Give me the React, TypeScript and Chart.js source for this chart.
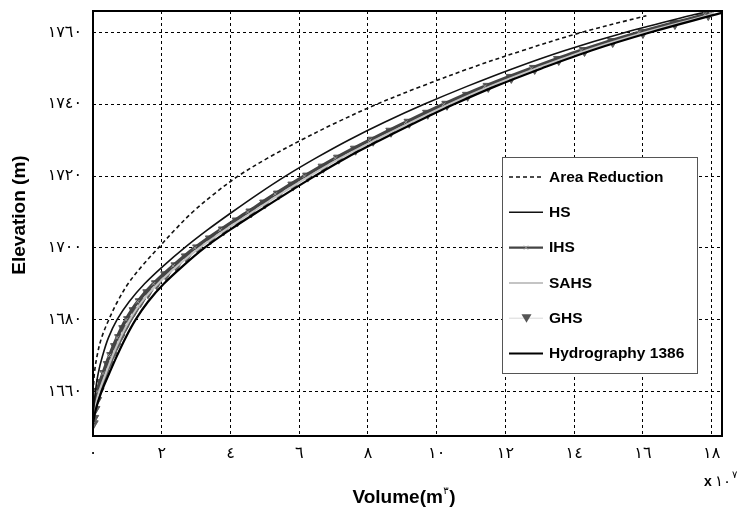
import React, { useEffect, useRef } from "react";
import { Chart, registerables } from "chart.js";

Chart.register(...registerables);

// ---- data (volume in 10^7 m^3, elevation in m) ----
const xTicks = [0, 2, 4, 6, 8, 10, 12, 14, 16, 18];
const yTicks = [1660, 1680, 1700, 1720, 1740, 1760];

const areaReductionElev = [1656, 1660, 1665, 1670, 1675, 1680, 1685, 1690, 1695, 1700, 1705, 1710, 1715, 1720, 1725, 1730, 1735, 1740, 1745, 1750, 1755, 1760, 1764.7];
const areaReductionVol = [0, 0.01, 0.04, 0.12, 0.25, 0.46, 0.71, 1.02, 1.43, 1.9, 2.38, 2.9, 3.52, 4.22, 5.08, 6.05, 7.1, 8.25, 9.55, 10.95, 12.5, 14.2, 16.1];

const curveElev = [1651, 1655, 1660, 1665, 1670, 1675, 1680, 1685, 1690, 1695, 1700, 1705, 1710, 1715, 1720, 1725, 1730, 1735, 1740, 1745, 1750, 1755, 1760, 1765, 1765.5];
const hsVol = [0, 0.02, 0.07, 0.15, 0.28, 0.45, 0.7, 1.05, 1.5, 2.05, 2.66, 3.33, 4.05, 4.8, 5.6, 6.48, 7.43, 8.48, 9.63, 10.88, 12.23, 13.73, 15.48, 17.5, 17.75];
const ihsVol = [0, 0.03, 0.12, 0.29, 0.48, 0.7, 0.96, 1.3, 1.76, 2.33, 2.96, 3.7, 4.5, 5.3, 6.15, 7.05, 8.05, 9.1, 10.2, 11.4, 12.75, 14.2, 15.88, 17.8, 17.95];
const sahsVol = [0, 0.05, 0.18, 0.37, 0.57, 0.8, 1.07, 1.42, 1.89, 2.46, 3.1, 3.84, 4.64, 5.45, 6.3, 7.2, 8.2, 9.25, 10.35, 11.55, 12.9, 14.35, 16.05, 17.95, 18.05];
const hydroVol = [0, 0.08, 0.25, 0.47, 0.7, 0.95, 1.24, 1.6, 2.06, 2.62, 3.24, 3.98, 4.78, 5.6, 6.45, 7.35, 8.35, 9.4, 10.5, 11.7, 13.05, 14.5, 16.2, 18.1, 18.3];

const ghsElev = [1651, 1652.5, 1655, 1657.5, 1660, 1662.5, 1665, 1667.5, 1670, 1672.5, 1675, 1677.5, 1680, 1682.5, 1685, 1687.5, 1690, 1692.5, 1695, 1697.5, 1700, 1702.5, 1705, 1707.5, 1710, 1712.5, 1715, 1717.5, 1720, 1722.5, 1725, 1727.5, 1730, 1732.5, 1735, 1737.5, 1740, 1742.5, 1745, 1747.5, 1750, 1752.5, 1755, 1757.5, 1760, 1762.5, 1765];
const ghsVol = [0, 0.015, 0.05, 0.1, 0.17, 0.25, 0.35, 0.45, 0.55, 0.66, 0.78, 0.9, 1.04, 1.2, 1.38, 1.6, 1.85, 2.12, 2.42, 2.72, 3.05, 3.42, 3.8, 4.2, 4.6, 5.0, 5.4, 5.82, 6.25, 6.7, 7.15, 7.64, 8.15, 8.67, 9.2, 9.74, 10.3, 10.9, 11.5, 12.17, 12.85, 13.55, 14.3, 15.12, 16.0, 16.93, 17.9];

const seriesLabels = ["Area Reduction", "HS", "IHS", "SAHS", "GHS", "Hydrography 1386"];

const AR_DIGITS = "٠١٢٣٤٥٦٧٨٩";
const toArabic = (v: number | string) => String(v).replace(/[0-9]/g, (d) => AR_DIGITS[+d]);

const pts = (vol: number[], elev: number[]) => elev.map((h, i) => ({ x: vol[i], y: h }));

const SANS = "'Liberation Sans', Arial, sans-serif";
const DIGIT_FONT = "'DejaVu Sans', sans-serif";

function drawTriangleDown(ctx: CanvasRenderingContext2D, x: number, y: number, r: number, color: string) {
  ctx.beginPath();
  ctx.moveTo(x - r, y - r * 0.8);
  ctx.lineTo(x + r, y - r * 0.8);
  ctx.lineTo(x, y + r * 0.9);
  ctx.closePath();
  ctx.fillStyle = color;
  ctx.fill();
}

const decorPlugin = {
  id: "decor",
  afterDatasetsDraw(chart: any) {
    const { ctx, chartArea: a } = chart;
    ctx.save();
    // frame
    ctx.strokeStyle = "#000";
    ctx.lineWidth = 2;
    ctx.setLineDash([]);
    ctx.strokeRect(a.left, a.top, a.right - a.left, a.bottom - a.top);

    // legend box
    const bx = 502, by = 157, bw = 195, bh = 216;
    ctx.fillStyle = "#fff";
    ctx.fillRect(bx, by, bw, bh);
    ctx.strokeStyle = "#555";
    ctx.lineWidth = 1;
    ctx.strokeRect(bx + 0.5, by + 0.5, bw, bh);

    ctx.font = `bold 15.5px ${SANS}`;
    ctx.textBaseline = "middle";
    ctx.textAlign = "left";
    chart.data.datasets.forEach((ds: any, row: number) => {
      const y = 177 + row * 35.3;
      const x0 = 509, x1 = 543;
      ctx.save();
      ctx.strokeStyle = ds.borderColor;
      ctx.lineWidth = Math.min(ds.borderWidth, 2.2);
      ctx.setLineDash(ds.borderDash || []);
      ctx.beginPath();
      ctx.moveTo(x0, y);
      ctx.lineTo(x1, y);
      ctx.stroke();
      ctx.setLineDash([]);
      if (ds.label === "IHS") {
        ctx.strokeStyle = "#999";
        ctx.lineWidth = 1;
        ctx.beginPath();
        ctx.moveTo(524, y - 2); ctx.lineTo(528, y + 2);
        ctx.moveTo(528, y - 2); ctx.lineTo(524, y + 2);
        ctx.stroke();
      }
      if (ds.label === "GHS") {
        drawTriangleDown(ctx, 526.5, y, 5, "#555");
      }
      ctx.restore();
      ctx.fillStyle = "#000";
      ctx.fillText(ds.label, 549, y + 0.5);
    });
    ctx.restore();
  },
  afterDraw(chart: any) {
    const { ctx } = chart;
    ctx.save();
    ctx.fillStyle = "#000";
    // y title
    ctx.save();
    ctx.translate(20, 215);
    ctx.rotate(-Math.PI / 2);
    ctx.font = `bold 19px ${SANS}`;
    ctx.textAlign = "center";
    ctx.textBaseline = "middle";
    ctx.fillText("Elevation (m)", 0, 0);
    ctx.restore();

    // x title with superscript
    ctx.textBaseline = "alphabetic";
    ctx.textAlign = "left";
    const main = "Volume(m";
    const sup = toArabic(3);
    const close = ")";
    ctx.font = `bold 19px ${SANS}`;
    const w1 = ctx.measureText(main).width;
    const w3 = ctx.measureText(close).width;
    ctx.font = `10px ${DIGIT_FONT}`;
    const w2 = ctx.measureText(sup).width;
    const total = w1 + w2 + w3 + 1;
    let x = 404 - total / 2;
    const base = 503;
    ctx.font = `bold 19px ${SANS}`;
    ctx.fillText(main, x, base);
    x += w1;
    ctx.font = `10px ${DIGIT_FONT}`;
    ctx.fillText(sup, x + 0.5, base - 9);
    x += w2 + 1;
    ctx.font = `bold 19px ${SANS}`;
    ctx.fillText(close, x, base);

    // multiplier "x 10^7"
    const mb = 486;
    ctx.font = `bold 14px ${SANS}`;
    ctx.fillText("x", 704, mb);
    ctx.font = `15px ${DIGIT_FONT}`;
    ctx.fillText(toArabic(10), 715, mb);
    const w10 = ctx.measureText(toArabic(10)).width;
    ctx.font = `10px ${DIGIT_FONT}`;
    ctx.fillText(toArabic(7), 715 + w10 + 1, mb - 8);
    ctx.restore();
  },
};

export default function App() {
  const ref = useRef<HTMLCanvasElement>(null);
  useEffect(() => {
    document.body.style.margin = "0";
    const canvas = ref.current;
    if (!canvas) return;
    const chart = new Chart(canvas, {
      type: "line",
      data: {
        datasets: [
          {
            label: seriesLabels[0],
            data: pts(areaReductionVol, areaReductionElev),
            borderColor: "#111",
            borderWidth: 1.6,
            borderDash: [4, 3],
            pointRadius: 0,
            tension: 0.35,
            order: 0,
          },
          {
            label: seriesLabels[1],
            data: pts(hsVol, curveElev),
            borderColor: "#111",
            borderWidth: 1.6,
            pointRadius: 0,
            tension: 0.35,
            order: 1,
          },
          {
            label: seriesLabels[2],
            data: pts(ihsVol, curveElev),
            borderColor: "#444",
            borderWidth: 3.5,
            pointStyle: "crossRot",
            pointRadius: 2.5,
            pointBorderColor: "#999",
            pointBorderWidth: 1,
            tension: 0.35,
            order: 4,
          },
          {
            label: seriesLabels[3],
            data: pts(sahsVol, curveElev),
            borderColor: "#c4c4c4",
            borderWidth: 2,
            pointRadius: 0,
            tension: 0.35,
            order: 3,
          },
          {
            label: seriesLabels[4],
            data: pts(ghsVol, ghsElev),
            borderColor: "#d8d8d8",
            borderWidth: 1,
            pointStyle: "triangle",
            rotation: 180,
            pointRadius: 6,
            pointBackgroundColor: "#5a5a5a",
            pointBorderColor: "#5a5a5a",
            pointBorderWidth: 1,
            tension: 0.35,
            order: 5,
          },
          {
            label: seriesLabels[5],
            data: pts(hydroVol, curveElev),
            borderColor: "#000",
            borderWidth: 2.2,
            pointRadius: 0,
            tension: 0.35,
            order: 2,
          },
        ] as any,
      },
      options: {
        responsive: false,
        animation: false,
        events: [],
        layout: { padding: { left: 0, top: 11, right: 24, bottom: 0 } },
        plugins: {
          legend: { display: false },
          tooltip: { enabled: false },
        },
        scales: {
          x: {
            type: "linear",
            min: 0,
            max: 18.3,
            afterBuildTicks: (s: any) => {
              s.ticks = xTicks.map((v) => ({ value: v }));
            },
            afterFit: (s: any) => {
              s.height = 73;
              s.paddingLeft = 0;
              s.paddingRight = 0;
            },
            ticks: {
              callback: (v: any) => toArabic(v),
              font: { family: DIGIT_FONT, size: 16 },
              color: "#000",
              padding: 8,
              maxRotation: 0,
              autoSkip: false,
            },
            grid: { color: "#000", lineWidth: 1, drawTicks: false },
            border: { display: false, dash: [3, 3] },
          },
          y: {
            type: "linear",
            min: 1647.6,
            max: 1766,
            afterBuildTicks: (s: any) => {
              s.ticks = yTicks.map((v) => ({ value: v }));
            },
            afterFit: (s: any) => {
              s.width = 93;
              s.paddingTop = 0;
              s.paddingBottom = 0;
            },
            ticks: {
              callback: (v: any) => toArabic(v),
              font: { family: DIGIT_FONT, size: 16 },
              color: "#000",
              padding: 11,
              autoSkip: false,
            },
            grid: { color: "#000", lineWidth: 1, drawTicks: false },
            border: { display: false, dash: [3, 3] },
          },
        },
      } as any,
      plugins: [decorPlugin],
    });
    return () => chart.destroy();
  }, []);
  return (
    <div style={{ width: 746, height: 509 }}>
      <canvas ref={ref} width={746} height={509} style={{ display: "block", width: 746, height: 509 }} />
    </div>
  );
}
